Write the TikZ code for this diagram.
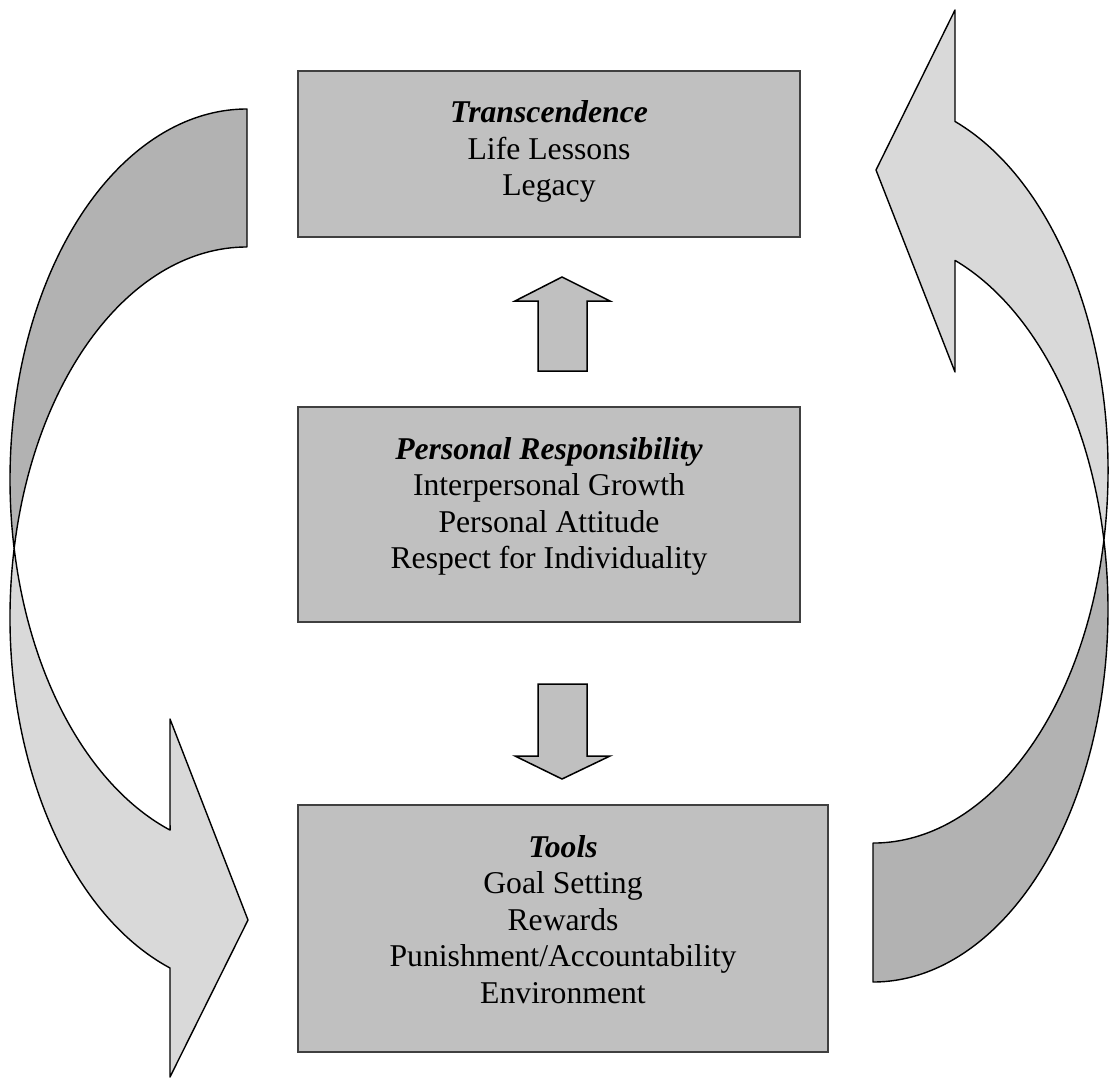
\documentclass[tikz,border=0pt]{standalone}
\usepackage{fontspec}
\setmainfont{Liberation Serif}
\usepackage{tikz}
\usetikzlibrary{positioning}
\definecolor{boxGray}{RGB}{192, 192, 192}
\definecolor{backGray}{RGB}{178, 178, 178}
\definecolor{frontGray}{RGB}{217, 217, 217}
\definecolor{edgeGray}{RGB}{64, 64, 64}

\begin{document}
\begin{tikzpicture}[x=1pt, y=-1pt,
    box/.style={draw=edgeGray, line width=1.5pt, fill=boxGray, inner sep=0pt},
    boxtext/.style={align=center, inner sep=0pt, font=\fontsize{31.7}{36.5}\selectfont},
    band/.style={draw=black, line width=1.4pt, line join=round},
    blockarrow/.style={draw=black, line width=1.5pt, fill=boxGray, line join=miter}]
    \useasboundingbox (0,0) rectangle (1110,1078);

    % Left curved arrow, back part
    \filldraw[band, fill=backGray] (247,109)
        arc[start angle=270, end angle=169.27, x radius=237, y radius=370.6]
        arc[start angle=190.73, end angle=270, x radius=237, y radius=370.6] -- cycle;

    % Left curved arrow, front part
    \filldraw[band, fill=frontGray] (14.2,548.6)
        arc[start angle=169.27, end angle=108.96, x radius=237, y radius=370.6]
        -- (170,719) -- (248,920) -- (170,1077) -- (170,968)
        arc[start angle=108.96, end angle=190.73, x radius=237, y radius=370.6] -- cycle;

    % Right curved arrow, back part
    \filldraw[band, fill=backGray] (873,982)
        arc[start angle=90, end angle=-10.75, x radius=235, y radius=372.5]
        arc[start angle=10.75, end angle=90, x radius=235, y radius=372.5] -- cycle;

    % Right curved arrow, front part
    \filldraw[band, fill=frontGray] (1103.9,540)
        arc[start angle=10.75, end angle=-69.58, x radius=235, y radius=372.5]
        -- (955,10) -- (876,170) -- (955,372) -- (955,260.4)
        arc[start angle=-69.58, end angle=-10.75, x radius=235, y radius=372.5] -- cycle;

    % Boxes
    \node[box, minimum width=502pt, minimum height=166pt] (trans) at (549,154) {};
    \node[box, minimum width=502pt, minimum height=215pt] (pers) at (549,514.5) {};
    \node[box, minimum width=530pt, minimum height=247pt] (tools) at (563,928.5) {};

    % Box texts
    \node[boxtext, below=27pt of trans.north] (transtext) {\strut\textbf{\textit{Transcendence}}\\Life Lessons\\Legacy};
    \node[boxtext, below=27pt of pers.north] (perstext) {\strut\textbf{\textit{Personal Responsibility}}\\Interpersonal Growth\\Personal Attitude\\Respect for Individuality};
    \node[boxtext, below=27pt of tools.north] (toolstext) {\strut\textbf{\textit{Tools}}\\Goal Setting\\Rewards\\Punishment/Accountability\\Environment};

    % Block arrows
    \draw[blockarrow] (538,371) -- (538,301) -- (515,301) -- (562,277) -- (610,301) -- (587,301) -- (587,371) -- cycle;
    \draw[blockarrow] (538,684) -- (538,756) -- (515,756) -- (562,779) -- (610,756) -- (587,756) -- (587,684) -- cycle;
\end{tikzpicture}
\end{document}
